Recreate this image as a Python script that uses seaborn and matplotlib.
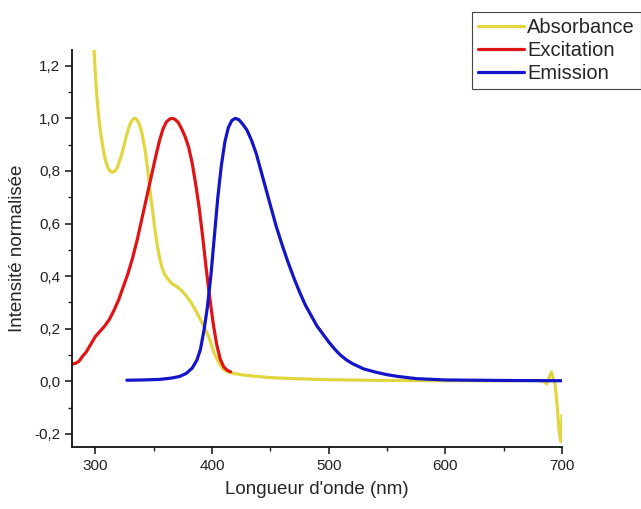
import matplotlib
matplotlib.use("Agg")
import matplotlib.pyplot as plt
import matplotlib.ticker as mticker
import numpy as np
import pandas as pd
import seaborn as sns

# ---- data ----
abs_nm = [297, 299, 300, 301, 303, 305, 307, 309, 311, 313, 315, 317, 319, 321,
          323, 325, 327, 329, 331, 333, 334, 335, 337, 339, 341, 343, 345, 347,
          349, 351, 353, 355, 357, 359, 362, 366, 370, 374, 378, 382, 386,
          390, 394, 398, 402, 406, 410, 414, 418, 425, 435, 450, 470, 500, 550,
          600, 650, 680, 684, 687, 689, 691, 692.5, 694, 696, 697.5, 699, 699.6, 700]
abs_val = [1.40, 1.25, 1.17, 1.10, 1.00, 0.93, 0.875, 0.835, 0.81, 0.797, 0.795,
           0.80, 0.815, 0.84, 0.87, 0.905, 0.94, 0.97, 0.99, 0.999, 1.0, 0.998,
           0.985, 0.96, 0.92, 0.87, 0.80, 0.72, 0.65, 0.58, 0.52, 0.47, 0.435,
           0.41, 0.39, 0.37, 0.36, 0.345, 0.325, 0.30, 0.27, 0.235, 0.20, 0.16,
           0.105, 0.07, 0.045, 0.035, 0.03, 0.025, 0.02, 0.014, 0.01, 0.006,
           0.003, 0.002, 0.002, 0.003, 0.0, -0.01, 0.015, 0.035, 0.01, -0.01,
           -0.10, -0.19, -0.23, -0.20, -0.13]

exc_nm = [280, 283, 286, 289, 292, 296, 300, 304, 308, 312, 316, 320, 324, 328,
          332, 336, 340, 344, 348, 352, 355, 358, 361, 364, 366, 368, 371, 374,
          377, 380, 383, 386, 389, 392, 395, 398, 401, 404, 407, 410, 413, 416]
exc_val = [0.065, 0.068, 0.076, 0.095, 0.11, 0.14, 0.17, 0.19, 0.21, 0.235, 0.27,
           0.31, 0.36, 0.41, 0.47, 0.54, 0.62, 0.70, 0.78, 0.86, 0.915, 0.96,
           0.987, 0.998, 1.0, 0.997, 0.985, 0.96, 0.93, 0.89, 0.83, 0.75, 0.66,
           0.55, 0.43, 0.32, 0.22, 0.14, 0.085, 0.055, 0.042, 0.036]

em_nm = [327, 340, 355, 365, 372, 378, 383, 387, 390, 393, 396, 399, 402, 405, 408,
         411, 414, 417, 420, 423, 426, 430, 434, 438, 442, 446, 450, 455, 460, 465,
         470, 475, 480, 485, 490, 495, 500, 505, 510, 515, 520, 530, 540, 550, 560,
         575, 600, 650, 700]
em_val = [0.004, 0.005, 0.007, 0.012, 0.018, 0.03, 0.05, 0.08, 0.12, 0.19, 0.28,
          0.40, 0.55, 0.70, 0.82, 0.91, 0.965, 0.992, 1.0, 0.995, 0.98, 0.955,
          0.915, 0.865, 0.80, 0.735, 0.67, 0.59, 0.52, 0.455, 0.395, 0.34, 0.29,
          0.25, 0.21, 0.18, 0.15, 0.123, 0.10, 0.082, 0.068, 0.047, 0.035, 0.025,
          0.018, 0.01, 0.005, 0.003, 0.002]

labels = ["Absorbance", "Excitation", "Emission"]
colors = ["#E2D640", "#E01414", "#1414C8"]

df = pd.concat([
    pd.DataFrame({"nm": abs_nm, "val": abs_val, "serie": labels[0]}),
    pd.DataFrame({"nm": exc_nm, "val": exc_val, "serie": labels[1]}),
    pd.DataFrame({"nm": em_nm, "val": em_val, "serie": labels[2]}),
], ignore_index=True)

# ---- plot ----
sns.set_style("ticks")
plt.rcParams["font.family"] = ["Liberation Sans", "DejaVu Sans"]

fig = plt.figure(figsize=(6.41, 5.09), dpi=100)
ax = fig.add_axes([72 / 641, 62 / 509, 490 / 641, 397 / 509])

sns.lineplot(
    data=df, x="nm", y="val", hue="serie",
    hue_order=labels, palette=colors,
    linewidth=2.3, estimator=None, sort=False,
    ax=ax, legend=False,
)

ax.set_xlim(280, 700)
ax.set_ylim(-0.25, 1.26)
ax.xaxis.set_major_locator(mticker.MultipleLocator(100))
ax.xaxis.set_minor_locator(mticker.MultipleLocator(50))
ax.yaxis.set_major_locator(mticker.MultipleLocator(0.2))
ax.yaxis.set_minor_locator(mticker.MultipleLocator(0.1))
ax.yaxis.set_major_formatter(
    mticker.FuncFormatter(lambda v, p: f"{v:.1f}".replace(".", ",").replace("\u2212", "-"))
)
ax.tick_params(which="major", direction="out", length=5, width=1.2, labelsize=11, colors="#222222")
ax.tick_params(which="minor", direction="out", length=3, width=1.0, colors="#222222")
for s in ["top", "right"]:
    ax.spines[s].set_visible(False)
for s in ["left", "bottom"]:
    ax.spines[s].set_linewidth(1.3)
    ax.spines[s].set_color("#111111")

ax.set_xlabel("Longueur d'onde (nm)", fontsize=13.5, labelpad=6)
ax.set_ylabel("Intensité normalisée", fontsize=13.5, labelpad=6)

handles = [plt.Line2D([], [], color=c, linewidth=2.3) for c in colors]
leg = fig.legend(
    handles, labels, loc="upper right", bbox_to_anchor=(1.0, 1 - 12 / 509),
    fontsize=14.5, frameon=True, fancybox=False, framealpha=1,
    edgecolor="#444444", handlelength=2.3, handletextpad=0.15,
    labelspacing=0.2, borderpad=0.3, borderaxespad=0,
)
leg.get_frame().set_linewidth(0.8)

fig.savefig("out.png", dpi=100)
